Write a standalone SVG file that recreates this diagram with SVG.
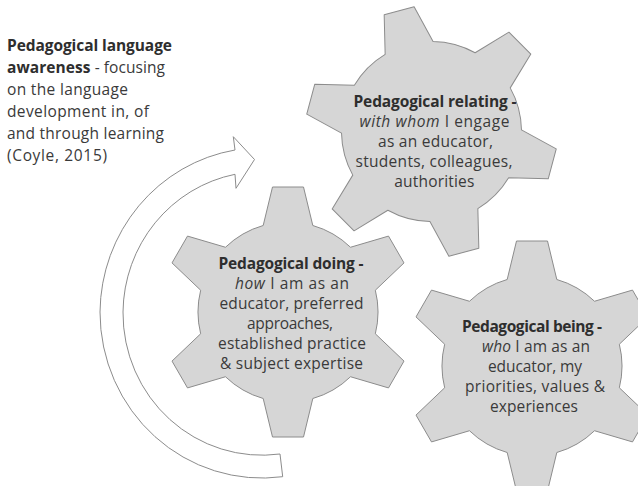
<svg xmlns="http://www.w3.org/2000/svg" xmlns:xlink="http://www.w3.org/1999/xlink" width="638" height="486" viewBox="0 0 638 486">
<style>
.gear{fill:#d6d6d6;stroke:#8c8c8c;stroke-width:1;stroke-linejoin:round}
.arrow{fill:#ffffff;stroke:#8c8c8c;stroke-width:1;stroke-linejoin:miter}
text{font-family:"Open Sans","Liberation Sans",sans-serif;font-size:15.5px;fill:#3a3a3a}
.c{text-anchor:middle}
.b{font-weight:bold;fill:#2e2e2e}
.i{font-style:italic}
</style>
<defs>
<path id="gearShape" d="M-24.81,-86.51 L-15.5,-125 L15.5,-125 L24.81,-86.51 A90,90 0 0 1 62.52,-64.74 L100.5,-75.92 L116,-49.08 L87.33,-21.77 A90,90 0 0 1 87.33,21.77 L116,49.08 L100.5,75.92 L62.52,64.74 A90,90 0 0 1 24.81,86.51 L15.5,125 L-15.5,125 L-24.81,86.51 A90,90 0 0 1 -62.52,64.74 L-100.5,75.92 L-116,49.08 L-87.33,21.77 A90,90 0 0 1 -87.33,-21.77 L-116,-49.08 L-100.5,-75.92 L-62.52,-64.74 A90,90 0 0 1 -24.81,-86.51 Z"/>
</defs>

<g id="connectors">
<path class="arrow" d="M280,454 L282.7,476.7 A162,166 0 0 1 100,312 A162,166 0 0 1 235,150 L233.3,136.7 L254.5,159.5 L236,188.3 L235,174.3 A139,142 0 0 0 123,312 A139,142 0 0 0 280,454 Z"/>
</g>

<g id="awareness-label">
<text x="7" y="51" class="b" textLength="165">Pedagogical language</text>
<text x="7" y="73" textLength="158"><tspan class="b">awareness</tspan> - focusing</text>
<text x="7" y="95" textLength="121">on the language</text>
<text x="7" y="117" textLength="142">development in, of</text>
<text x="7" y="139" textLength="157">and through learning</text>
<text x="7" y="161" textLength="100">(Coyle, 2015)</text>
</g>

<g id="gear-relating">
<use xlink:href="#gearShape" href="#gearShape" class="gear" transform="translate(431.5,131.5) rotate(-15)"/>
<text x="435" y="107" class="c b" textLength="163">Pedagogical relating -</text>
<text x="434.5" y="127" class="c" textLength="150"><tspan class="i">with whom</tspan> I engage</text>
<text x="435.5" y="147" class="c" textLength="115">as an educator,</text>
<text x="434" y="167" class="c" textLength="157">students, colleagues,</text>
<text x="434.3" y="187" class="c" textLength="80">authorities</text>
</g>

<g id="gear-doing">
<use xlink:href="#gearShape" href="#gearShape" class="gear" transform="translate(288,312)"/>
<text x="291" y="269" class="c b" textLength="145">Pedagogical doing -</text>
<text x="292" y="289" class="c" textLength="114"><tspan class="i">how</tspan> I am as an</text>
<text x="291.5" y="309" class="c" textLength="144">educator, preferred</text>
<text x="290" y="329" class="c" textLength="86">approaches,</text>
<text x="292" y="349" class="c" textLength="148">established practice</text>
<text x="291.5" y="369" class="c" textLength="143">&amp; subject expertise</text>
</g>

<g id="gear-being">
<use xlink:href="#gearShape" href="#gearShape" class="gear" transform="translate(532,366)"/>
<text x="532" y="332" class="c b" textLength="140">Pedagogical being -</text>
<text x="536" y="352" class="c" textLength="108"><tspan class="i">who</tspan> I am as an</text>
<text x="535" y="372" class="c" textLength="94">educator, my</text>
<text x="535" y="392" class="c" textLength="140">priorities, values &amp;</text>
<text x="534" y="412" class="c" textLength="88">experiences</text>
</g>
</svg>
